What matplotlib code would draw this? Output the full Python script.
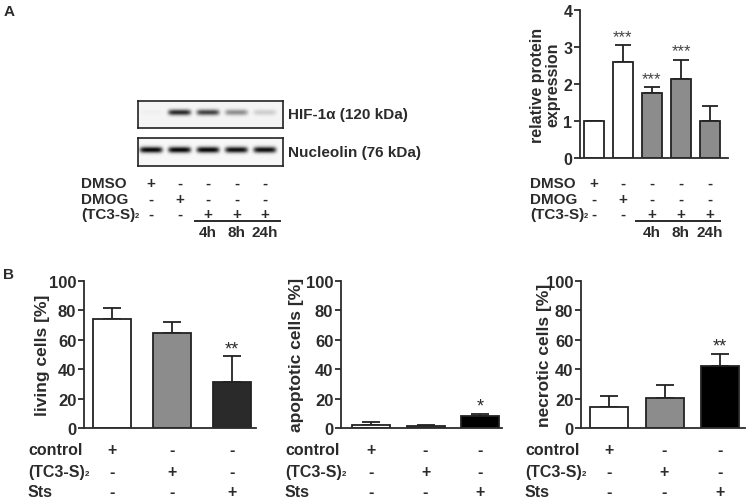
import numpy as np
import matplotlib.pyplot as plt
from matplotlib.transforms import blended_transform_factory as blend

plt.rcParams['font.family'] = ['Liberation Sans', 'DejaVu Sans']
plt.rcParams['font.weight'] = 'bold'

W, H = 746, 502
ink = '#2b2b2b'
TC3 = '(TC3-S)'  # subscript 2 is added next to it

# panel A: blot band densities per lane (0 = no band, 1 = strong band)
hif_band = [0.02, 0.80, 0.70, 0.40, 0.15]
nucleolin_band = [0.95, 0.95, 0.95, 0.92, 0.92]

# panel A: quantification
rel_expr = [1.0, 2.6, 1.75, 2.13, 1.0]
rel_err = [0.0, 0.45, 0.17, 0.53, 0.42]
rel_stars = ['', '***', '***', '***', '']
rel_colors = ['white', 'white', '#8c8c8c', '#8c8c8c', '#8c8c8c']

dmso = ['+', '-', '-', '-', '-']
dmog = ['-', '+', '-', '-', '-']
tc3 = ['-', '-', '+', '+', '+']
times = ['4h', '8h', '24h']

# panel B: flow cytometry
living = [74.1, 64.3, 31.6]
living_err = [7.2, 7.9, 17.2]
apoptotic = [2.4, 1.4, 8.1]
apoptotic_err = [2.1, 0.8, 1.8]
necrotic = [14.1, 20.8, 41.9]
necrotic_err = [7.7, 8.2, 8.5]
b_stars = [['', '', '**'], ['', '', '*'], ['', '', '**']]
b_labels = ['living cells [%]', 'apoptotic cells [%]', 'necrotic cells [%]']
b_colors = [['white', '#8c8c8c', '#2a2a2a'], ['white', '#8c8c8c', 'black'], ['white', '#8c8c8c', 'black']]
control = ['+', '-', '-']
tc3_b = ['-', '+', '-']
sts = ['-', '-', '+']

fig = plt.figure(figsize=(W / 100, H / 100), dpi=100)


def px_axes(l, t, r, b):
    return fig.add_axes([l / W, 1 - b / H, (r - l) / W, (b - t) / H])


def fy(y):
    return 1 - y / H


def fx(x):
    return x / W


def table(ax, rows, names, ys, xlab, size):
    tr = blend(ax.transData, fig.transFigure)
    for name, row, y in zip(names, rows, ys):
        t = fig.text(fx(xlab), fy(y), name, fontsize=size, color=ink, ha='left', va='center')
        if name == TC3:
            ax.annotate('2', xy=(1.0, 0.12), xycoords=t, fontsize=size * 0.5, color=ink,
                        ha='left', va='bottom', annotation_clip=False)
        for i, s in enumerate(row):
            ax.text(i, fy(y), s, transform=tr, fontsize=size, color=ink, ha='center', va='center', clip_on=False)


def style(ax, size):
    for s in ['top', 'right']:
        ax.spines[s].set_visible(False)
    for s in ['left', 'bottom']:
        ax.spines[s].set_linewidth(1.3)
        ax.spines[s].set_color(ink)
    ax.set_xticks([])
    ax.tick_params(axis='y', direction='out', length=4, width=1.3, color=ink, pad=1.5, labelsize=size, labelcolor=ink)


# ---- Panel A: blots
xl, xr = -0.456, 4.63


def blot(ax, dens, base):
    xs = np.linspace(xl, xr, 290)
    ys = np.linspace(0, 1, 56)
    img = np.full((len(ys), len(xs)), base)
    for i, d in enumerate(dens):
        hx = np.exp(-((xs - i) / 0.40) ** 6)
        vy = np.exp(-((ys - 0.42) / 0.11) ** 2)
        img -= d * np.outer(vy, hx)
    ax.imshow(img, cmap='gray', vmin=0, vmax=1, extent=(xl, xr, 1, 0), aspect='auto', interpolation='bilinear')
    ax.set_xlim(xl, xr)
    ax.set_xticks([])
    ax.set_yticks([])
    for s in ax.spines.values():
        s.set_linewidth(1.2)
        s.set_color('#222222')


ax_hif = px_axes(138, 102, 283, 129)
blot(ax_hif, hif_band, 0.96)
ax_nuc = px_axes(138, 139, 283, 167)
blot(ax_nuc, nucleolin_band, 0.97)
fig.text(fx(288), fy(115.5), 'HIF-1α (120 kDa)', fontsize=11, color=ink, va='center')
fig.text(fx(288), fy(153), 'Nucleolin (76 kDa)', fontsize=11, color=ink, va='center')

table(ax_hif, [dmso, dmog, tc3], ['DMSO', 'DMOG', TC3], [184, 200, 215], 81, 11)
trh = blend(ax_hif.transData, fig.transFigure)
ax_hif.plot([1.55, 4.53], [fy(222), fy(222)], transform=trh, color=ink, lw=1.4, clip_on=False)
for i, t in enumerate(times):
    ax_hif.text(i + 2, fy(233), t, transform=trh, fontsize=11, color=ink, ha='center', va='center')

# ---- Panel A: quantification
ax_a = px_axes(580, 11, 728, 159.3)
x_a = np.arange(len(rel_expr))
ax_a.bar(x_a, rel_expr, width=0.66, color=rel_colors, edgecolor='#222222', linewidth=1.3, zorder=2)
ax_a.errorbar(x_a, rel_expr, yerr=[np.zeros(len(rel_err)), rel_err], fmt='none', ecolor='#222222',
              elinewidth=1.3, capsize=5.5, capthick=1.3, zorder=1)
for i, s in enumerate(rel_stars):
    if s:
        ax_a.text(i, rel_expr[i] + rel_err[i] + 0.04, s, ha='center', va='bottom', fontsize=12,
                  fontweight='normal', color='#444444')
ax_a.set_xlim(-0.48, 4.62)
ax_a.set_ylim(0, 4)
ax_a.set_yticks([0, 1, 2, 3, 4])
style(ax_a, 11.5)
fig.text(fx(545), fy(85), 'relative protein\nexpression', rotation=90, ha='center', va='center',
         fontsize=11.5, color=ink, linespacing=1.05)

table(ax_a, [dmso, dmog, tc3], ['DMSO', 'DMOG', TC3], [184, 200, 215], 530, 11)
tra = blend(ax_a.transData, fig.transFigure)
ax_a.plot([1.45, 4.34], [fy(222), fy(222)], transform=tra, color=ink, lw=1.4, clip_on=False)
for i, t in enumerate(times):
    ax_a.text(i + 2, fy(233), t, transform=tra, fontsize=11, color=ink, ha='center', va='center')

# ---- Panel B
b_vals = [living, apoptotic, necrotic]
b_errs = [living_err, apoptotic_err, necrotic_err]
b_box = [(84, 256, 112, 232), (341, 502, 371, 480), (581, 745, 609, 720)]
b_ylab = [42, 297, 544]
b_tab = [28, 285, 525]
for k in range(3):
    left, right, c0, c2 = b_box[k]
    unit = (c2 - c0) / 2
    ax = px_axes(left, 281.7, right, 429.3)
    xb = np.arange(3)
    ax.bar(xb, b_vals[k], width=38 / unit, color=b_colors[k], edgecolor='#222222', linewidth=1.3, zorder=2)
    ax.errorbar(xb, b_vals[k], yerr=[np.zeros(3), b_errs[k]], fmt='none', ecolor='#222222',
                elinewidth=1.3, capsize=6.5, capthick=1.3, zorder=1)
    for i, s in enumerate(b_stars[k]):
        if s:
            ax.text(i, b_vals[k][i] + b_errs[k][i] - 0.5, s, ha='center', va='bottom', fontsize=13,
                    fontweight='normal', color=ink)
    ax.set_xlim((left - c0) / unit, (right - c0) / unit)
    ax.set_ylim(0, 100)
    ax.set_yticks([0, 20, 40, 60, 80, 100])
    style(ax, 12)
    fig.text(fx(b_ylab[k]), fy(355), b_labels[k], rotation=90, ha='center', va='center',
             fontsize=12.5, color=ink)
    table(ax, [control, tc3_b, sts], ['control', TC3, 'Sts'], [451, 472, 492.5], b_tab[k], 11.5)

fig.text(fx(4), fy(12), 'A', fontsize=11, color=ink, va='center')
fig.text(fx(3), fy(275), 'B', fontsize=11, color=ink, va='center')

fig.savefig('out.png', dpi=100)
